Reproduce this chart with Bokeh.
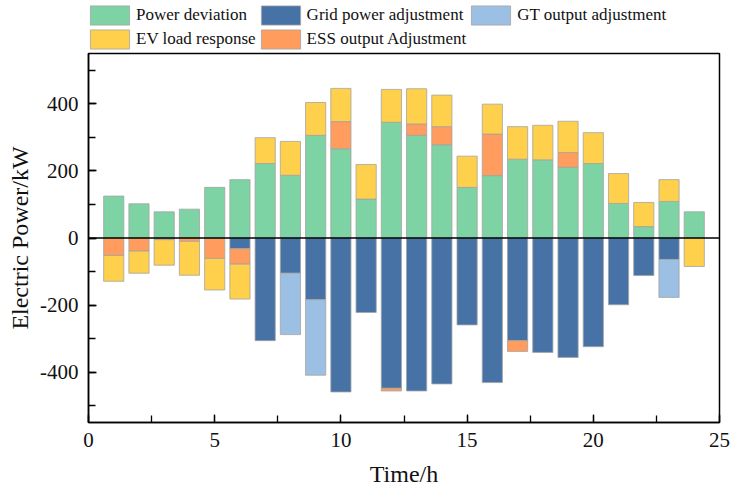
from bokeh.plotting import figure
from bokeh.layouts import column
from bokeh.models import (ColumnDataSource, Legend, LegendItem, Span, SingleIntervalTicker,
                          Range1d, PrintfTickFormatter)
from bokeh.embed import file_html
from bokeh.resources import INLINE

hours = list(range(1, 25))
power_deviation = [125, 102, 78, 86, 151, 174, 222, 187, 306, 266, 116, 345,
                   306, 278, 151, 186, 235, 233, 211, 222, 103, 34, 109, 78]
grid_adjust = [0, 0, 0, 0, 0, -32, -306, -105, -184, -459, -222, -448,
               -456, -435, -259, -431, -306, -341, -356, -324, -199, -112, -64, 0]
gt_adjust = [0, 0, 0, 0, 0, 0, 0, -183, -225, 0, 0, 0,
             0, 0, 0, 0, 0, 0, 0, 0, 0, 0, -113, 0]
ess_adjust = [-52, -39, -5, -10, -61, -46, 0, 0, 0, 81, 0, -8,
              34, 54, 0, 124, -32, 0, 44, 0, 0, 0, 0, 0]
ev_response = [-77, -66, -76, -101, -94, -104, 77, 101, 98, 99, 103, 98,
               105, 94, 93, 89, 97, 103, 93, 92, 89, 72, 65, -85]

series_names = ["Power deviation", "Grid power adjustment", "GT output adjustment",
                "EV load response", "ESS output Adjustment"]
colors = {"pd": "#7dd3a3", "grid": "#4672a6", "gt": "#9cc0e3",
          "ev": "#ffd04c", "ess": "#ff9c5e"}

pos_base = [0.0] * len(hours)
neg_base = [0.0] * len(hours)


def stack(vals):
    xs, bots, tops = [], [], []
    for i, v in enumerate(vals):
        if v == 0:
            continue
        if v > 0:
            b = pos_base[i]
            pos_base[i] = b + v
        else:
            b = neg_base[i]
            neg_base[i] = b + v
        xs.append(hours[i])
        bots.append(b)
        tops.append(b + v)
    return ColumnDataSource(dict(x=xs, bottom=bots, top=tops))


src_pd = stack(power_deviation)
src_grid = stack(grid_adjust)
src_gt = stack(gt_adjust)
src_ess = stack(ess_adjust)
src_ev = stack(ev_response)

FONT = "Liberation Serif"

p = figure(width=738, height=447, x_range=Range1d(0, 25), y_range=Range1d(-550, 550),
           output_backend="svg", toolbar_location=None,
           min_border_left=88, min_border_right=19, min_border_top=1, min_border_bottom=77)

common = dict(width=0.8, line_color="#a3a3a3", line_width=0.8)
p.vbar(x="x", bottom="bottom", top="top", source=src_pd, fill_color=colors["pd"], **common)
p.vbar(x="x", bottom="bottom", top="top", source=src_grid, fill_color=colors["grid"], **common)
p.vbar(x="x", bottom="bottom", top="top", source=src_gt, fill_color=colors["gt"], **common)
p.vbar(x="x", bottom="bottom", top="top", source=src_ess, fill_color=colors["ess"], **common)
p.vbar(x="x", bottom="bottom", top="top", source=src_ev, fill_color=colors["ev"], **common)

p.add_layout(Span(location=0, dimension="width", line_color="black", line_width=1.5))

p.xgrid.visible = False
p.ygrid.visible = False
p.outline_line_color = "black"
p.outline_line_width = 1.5

p.xaxis.ticker = SingleIntervalTicker(interval=5, num_minor_ticks=2)
p.yaxis.ticker = SingleIntervalTicker(interval=200, num_minor_ticks=2)
p.yaxis.formatter = PrintfTickFormatter(format="%d")
p.xaxis.formatter = PrintfTickFormatter(format="%d")
for ax in (p.xaxis[0], p.yaxis[0]):
    ax.axis_line_color = "black"
    ax.axis_line_width = 1.5
    ax.major_tick_in = 8
    ax.major_tick_out = 0
    ax.minor_tick_in = 7
    ax.minor_tick_out = 0
    ax.major_tick_line_color = "black"
    ax.minor_tick_line_color = "black"
    ax.major_tick_line_width = 1.3
    ax.minor_tick_line_width = 1.3
    ax.major_label_text_font = FONT
    ax.major_label_text_font_size = "21px"
    ax.major_label_text_color = "#111111"
    ax.axis_label_text_font = FONT
    ax.axis_label_text_font_size = "24px"
    ax.axis_label_text_font_style = "normal"
    ax.axis_label_text_color = "#111111"
    ax.major_label_standoff = 10

p.xaxis.axis_label = "Time/h"
p.yaxis.axis_label = "Electric Power/kW"
p.xaxis.axis_label_standoff = 11
p.yaxis.axis_label_standoff = 4

# legend strip above the plot (its frame is aligned with the main frame)
lp = figure(width=738, height=52, x_range=Range1d(0, 1), y_range=Range1d(0, 1),
            output_backend="svg", toolbar_location=None,
            x_axis_location=None, y_axis_location=None, min_border=0)
lp.xgrid.visible = False
lp.ygrid.visible = False
lp.outline_line_color = None
keys = ["pd", "grid", "gt", "ev", "ess"]
leg_r = {}
for k in keys:
    leg_r[k] = lp.vbar(x="x", top="top", source=ColumnDataSource(dict(x=[-100.0], top=[-100.0])),
                       bottom=-101.0, width=0.1, fill_color=colors[k],
                       line_color="#a3a3a3", line_width=0.8)

legend = Legend(items=[
    LegendItem(label=series_names[0], renderers=[leg_r["pd"]]),
    LegendItem(label=series_names[1], renderers=[leg_r["grid"]]),
    LegendItem(label=series_names[2], renderers=[leg_r["gt"]]),
    LegendItem(label=series_names[3], renderers=[leg_r["ev"]]),
    LegendItem(label=series_names[4], renderers=[leg_r["ess"]]),
], location=(-3, 1), orientation="horizontal", ncols=3,
    glyph_width=49, glyph_height=24, label_height=20, spacing=0, label_standoff=2,
    padding=0, margin=0, border_line_color=None, background_fill_alpha=0,
    label_text_font=FONT, label_text_font_size="17px", label_text_color="#111111")
lp.add_layout(legend)

layout = column(lp, p, spacing=0)
open("out.html", "w").write(file_html(layout, INLINE))
